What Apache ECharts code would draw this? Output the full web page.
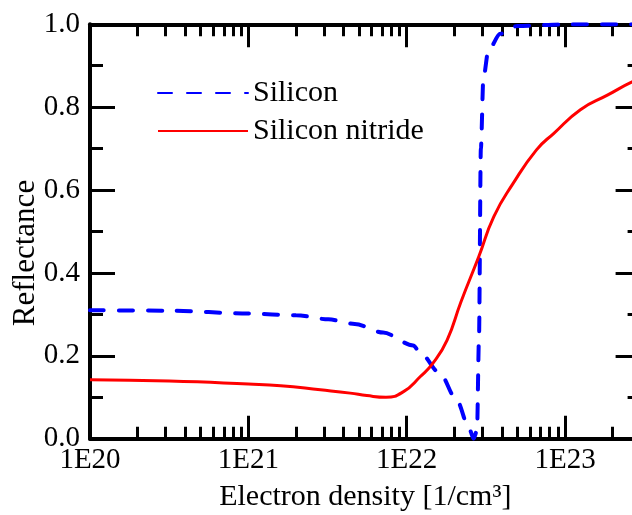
<!DOCTYPE html>
<html>
<head>
<meta charset="utf-8">
<script src="https://cdn.jsdelivr.net/npm/echarts@6/dist/echarts.min.js"></script>
<style>
  html, body { margin: 0; padding: 0; background: #fff; overflow: hidden; }
  #chart { width: 641px; height: 515px; }
</style>
</head>
<body>
<div id="chart"></div>
<script>
// electron density [1/cm^3] and reflectance
const siliconDensity = [1e20, 3.16e20, 1e21, 2e21, 3.2e21, 4.7e21, 7.1e21, 1.1e22, 1.22e22, 1.62e22, 2.07e22, 2.5e22, 2.65e22,
                        2.78e22, 2.86e22, 2.94e22, 3.05e22, 3.28e22, 3.9e22, 5e22, 1e23, 3e23];
const siliconRefl    = [0.310, 0.309, 0.302, 0.298, 0.288, 0.277, 0.256, 0.225, 0.207, 0.158, 0.093, 0.021, 0.0,
                        0.02, 0.24, 0.70, 0.87, 0.937, 0.977, 0.996, 1.0, 1.0];

const nitrideDensity = [1e20, 3.16e20, 1e21, 1.6e21, 2.85e21, 4.4e21, 5.6e21, 7.4e21, 9.5e21, 1.22e22, 1.47e22, 1.8e22,
                        2.2e22, 2.85e22, 3.55e22, 4.7e22, 6.6e22, 8.5e22, 1.25e23, 1.85e23, 2.65e23, 3e23];
const nitrideRefl    = [0.142, 0.139, 0.132, 0.128, 0.118, 0.110, 0.104, 0.100, 0.113, 0.150, 0.183, 0.238,
                        0.330, 0.439, 0.536, 0.616, 0.697, 0.737, 0.794, 0.829, 0.861, 0.867];

const xMajorTicks = [1e20, 1e21, 1e22, 1e23];
const xTickLabels = ['1E20', '1E21', '1E22', '1E23'];
const xMinorSteps = [2, 3, 4, 5, 6, 7, 8, 9];

const xMin = 1e20, xMax = 3e23;
const font = 'Liberation Serif';

const xMinorTicks = [];
xMajorTicks.forEach(d => xMinorSteps.forEach(s => { if (d * s < xMax) xMinorTicks.push(d * s); }));

const chart = echarts.init(document.getElementById('chart'));

const tickLine = { color: '#000', width: 3 };

function logX(position, ticks, len, opts) {
  return Object.assign({
    type: 'log', min: xMin, max: xMax, position: position,
    axisLine: { show: false },
    axisTick: { inside: true, length: len, customValues: ticks, lineStyle: tickLine },
    axisLabel: { show: false },
    splitLine: { show: false },
    minorTick: { show: false }
  }, opts || {});
}

function linY(position, opts) {
  return Object.assign({
    type: 'value', min: 0, max: 1, interval: 0.2, position: position,
    axisLine: { show: true, lineStyle: { color: '#000', width: 4 } },
    axisTick: { inside: true, length: 25, lineStyle: tickLine },
    minorTick: { show: true, splitNumber: 2, length: 13, lineStyle: tickLine },
    axisLabel: { show: false },
    splitLine: { show: false }
  }, opts || {});
}

chart.setOption({
  animation: false,
  backgroundColor: '#fff',
  textStyle: { fontFamily: font },
  grid: { left: 90, right: 0.4, top: 24.3, bottom: 76.3, containLabel: false, outerBoundsMode: 'none' },
  legend: {
    orient: 'vertical', left: 152, top: 73,
    itemWidth: 90, itemHeight: 14, itemGap: 8,
    itemStyle: { opacity: 0 },
    textStyle: { fontFamily: font, fontSize: 30, color: '#000' },
    data: ['Silicon', 'Silicon nitride']
  },
  xAxis: [
    logX('bottom', xMajorTicks, 23, {
      axisLine: { show: true, lineStyle: { color: '#000', width: 4 } },
      axisLabel: {
        show: true, customValues: xMajorTicks, margin: 7,
        fontFamily: font, fontSize: 29, color: '#000',
        formatter: v => xTickLabels[Math.round(Math.log10(v)) - 20]
      },
      name: 'Electron density [1/cm³]',
      nameLocation: 'middle', nameGap: 43, nameMoveOverlap: false,
      nameTextStyle: { fontFamily: font, fontSize: 30, color: '#000' }
    }),
    logX('bottom', xMinorTicks, 12),
    logX('top', xMajorTicks, 23, {
      axisLine: { show: true, lineStyle: { color: '#000', width: 4 } }
    }),
    logX('top', xMinorTicks, 12)
  ],
  yAxis: [
    linY('left', {
      axisLabel: {
        show: true, margin: 10, fontFamily: font, fontSize: 29, color: '#000',
        formatter: v => v.toFixed(1)
      },
      name: 'Reflectance', nameLocation: 'middle', nameGap: 49, nameMoveOverlap: false,
      nameTextStyle: { fontFamily: font, fontSize: 31, color: '#000', padding: [0, 43, 0, 0] }
    }),
    linY('right')
  ],
  series: [
    {
      name: 'Silicon', type: 'line', xAxisIndex: 0, yAxisIndex: 0,
      data: siliconDensity.map((d, i) => [d, siliconRefl[i]]),
      symbol: 'none', color: '#0000ff', smooth: 0.3, smoothMonotone: 'x',
      lineStyle: { color: '#0000ff', width: 4, type: [14, 15], cap: 'round' }
    },
    {
      name: 'Silicon nitride', type: 'line', xAxisIndex: 0, yAxisIndex: 0,
      data: nitrideDensity.map((d, i) => [d, nitrideRefl[i]]),
      symbol: 'none', color: '#ff0000', smooth: 0.5,
      lineStyle: { color: '#ff0000', width: 3 }
    }
  ]
});
</script>
</body>
</html>
